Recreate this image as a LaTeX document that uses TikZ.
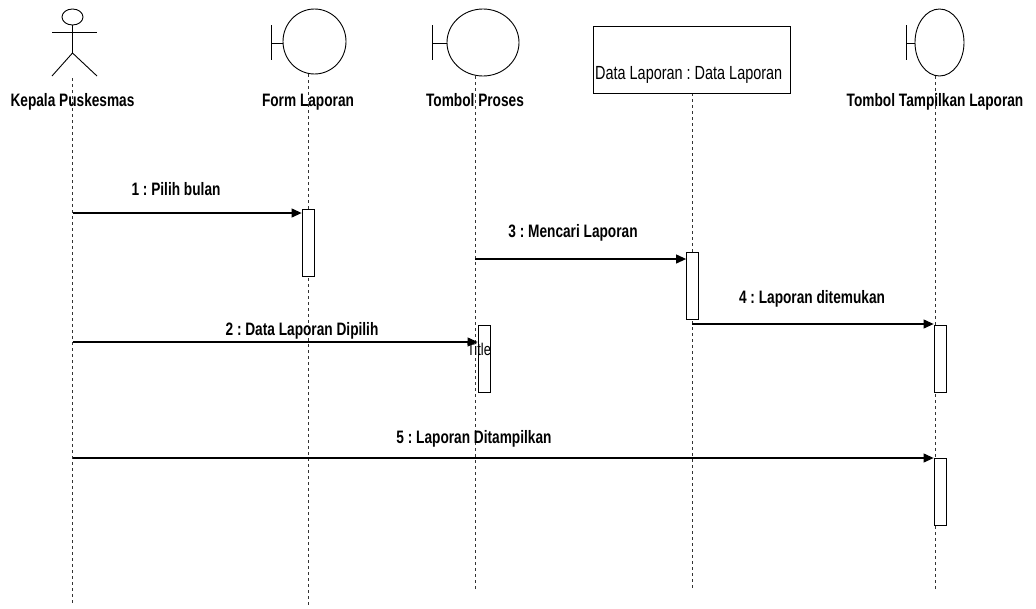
\documentclass[tikz,border=0pt]{standalone}
\usepackage{fontspec}
\newfontfamily\narrowfont[FakeStretch=0.76]{Liberation Sans}
\usetikzlibrary{arrows.meta,positioning}
\frenchspacing
\begin{document}
\begin{tikzpicture}[x=1pt,y=-1pt,
    lifeline/.style={dash pattern=on 3pt off 3pt, line width=0.7pt, black!80},
    activation/.style={draw, fill=white, line width=0.8pt, minimum width=12pt, minimum height=67pt, inner sep=0pt, anchor=north},
    msg/.style={line width=1.1pt, -{Triangle[length=10pt,width=9pt]}},
    lbl/.style={font=\narrowfont\bfseries\fontsize{18}{18}\selectfont, anchor=base, inner sep=0pt},
    plain/.style={font=\narrowfont\fontsize{19}{19}\selectfont, anchor=base west, inner sep=0pt},
    outline/.style={line width=0.9pt}]
\useasboundingbox (0,0) rectangle (1036,608);
% lifelines
\draw[lifeline] (72.5,78) -- (72.5,605);
\draw[lifeline] (308,74) -- (308,605);
\draw[lifeline] (475,76) -- (475,591);
\draw[lifeline] (692,93) -- (692,589);
\draw[lifeline] (935,76) -- (935,591);
% actor
\draw[outline] (72.5,17) ellipse (10.5 and 8);
\draw[outline] (52,32) -- (97,32);
\draw[outline] (72.5,25) -- (72.5,53) (52,76) -- (72.5,53) -- (97,76);
% boundaries
\draw[outline] (271,25) -- (271,60) (271,43) -- (283,43);
\draw[outline] (314.5,41.5) ellipse (31.5 and 32.5);
\draw[outline] (432,25) -- (432,60) (432,43) -- (447,43);
\draw[outline] (483,42.5) ellipse (36 and 33.5);
\draw[outline] (906,25) -- (906,60) (906,43) -- (915,43);
\draw[outline] (939.5,42.5) ellipse (24.5 and 33.5);
% entity box
\node[draw, outline, minimum width=197pt, minimum height=67pt, inner sep=0pt] (dlbox) at (691.5,59.5) {};
\node[plain] (dltext) at (595,79) {Data Laporan : Data Laporan};
% lifeline names
\node[lbl] (kp) at (72.5,106) {Kepala Puskesmas};
\node[lbl] (fl) at (308,106) {Form Laporan};
\node[lbl] (tp) at (475,106) {Tombol Proses};
\node[lbl] (tt) at (935,106) {Tombol Tampilkan Laporan};
% activations
\node[activation] (flact) at (308,209) {};
\node[activation] (tpact) at (484,325) {};
\node[activation] (dlact) at (692.5,252) {};
\node[activation] (ttact1) at (940,325) {};
\node[activation] (ttact2) at (940,458) {};
\node[font=\narrowfont\fontsize{17}{17}\selectfont, anchor=base, inner sep=0pt] (title) at (479,355) {Title};
% messages
\coordinate (m1) at (72.5,213);
\coordinate (m2) at (72.5,342);
\coordinate (m3) at (475,259);
\coordinate (m4) at (692,324);
\coordinate (m5) at (72.5,458);
\draw[msg] (m1) -- (m1 -| flact.west);
\draw[msg] (m2) -- (m2 -| tpact.west);
\draw[msg] (m3) -- (m3 -| dlact.west);
\draw[msg] (m4) -- (m4 -| ttact1.west);
\draw[msg] (m5) -- (m5 -| ttact2.west);
\node[lbl] (l1) at (176,195) {1 : Pilih bulan};
\node[lbl] (l2) at (302,335) {2 : Data Laporan Dipilih};
\node[lbl] (l3) at (573,237) {3 : Mencari Laporan};
\node[lbl] (l4) at (812,303) {4 : Laporan ditemukan};
\node[lbl] (l5) at (474,443) {5 : Laporan Ditampilkan};
\end{tikzpicture}
\end{document}
